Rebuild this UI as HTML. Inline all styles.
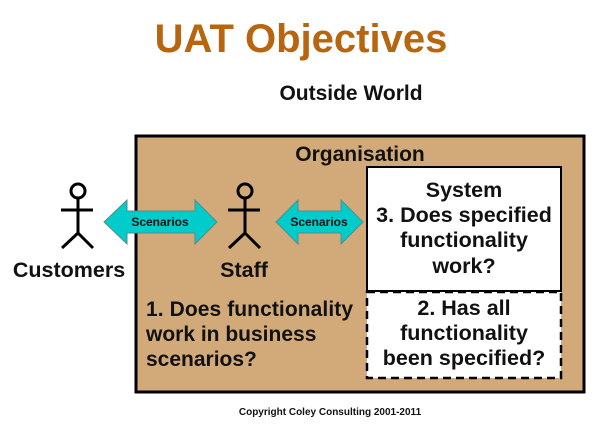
<!DOCTYPE html>
<html><head><style>
html,body{margin:0;padding:0;background:#fff;}
svg{display:block;font-family:"Liberation Sans",Arial,sans-serif;}
</style></head><body>
<svg width="600" height="437" viewBox="0 0 600 437">
<text x="301" y="52" text-anchor="middle" font-size="40" font-weight="bold" fill="#b8650f">UAT Objectives</text>
<text x="351" y="100" text-anchor="middle" font-size="21" font-weight="bold" fill="#111">Outside World</text>
<rect x="136" y="136" width="448" height="256" fill="#d2aa7a" stroke="#000" stroke-width="3"/>
<text x="360" y="161" text-anchor="middle" font-size="21" font-weight="bold" fill="#111">Organisation</text>
<rect x="367" y="167" width="194" height="124" fill="#fff" stroke="#000" stroke-width="2"/>
<rect x="367" y="292" width="194" height="86" fill="#fff" stroke="#000" stroke-width="2.5" stroke-dasharray="8,5"/>
<g font-size="21.5" text-anchor="middle" fill="#111" font-weight="bold">
<text x="464" y="197">System</text>
<text x="464" y="222">3. Does specified</text>
<text x="464" y="247">functionality</text>
<text x="464" y="273">work?</text>
<text x="464" y="315">2. Has all</text>
<text x="464" y="340">functionality</text>
<text x="464" y="365">been specified?</text>
</g>
<g font-size="21" fill="#111" font-weight="bold">
<text x="146" y="316" textLength="207">1. Does functionality</text>
<text x="146" y="341">work in business</text>
<text x="146" y="366">scenarios?</text>
<text x="69" y="277" text-anchor="middle" font-size="21.5">Customers</text>
<text x="244" y="277" text-anchor="middle" font-size="21.5">Staff</text>
</g>
<polygon points="104,222 127,200 127,211 195,211 195,200 217,222 195,244 195,233 127,233 127,244" fill="#00cccc" stroke="#5a8a8a" stroke-width="1"/>
<text x="160" y="226" text-anchor="middle" font-size="12" font-weight="bold" fill="#111">Scenarios</text>
<polygon points="276,222 298,200 298,211 341,211 341,200 363,222 341,244 341,233 298,233 298,244" fill="#00cccc" stroke="#5a8a8a" stroke-width="1"/>
<text x="319" y="226" text-anchor="middle" font-size="12" font-weight="bold" fill="#111">Scenarios</text>
<g stroke="#000" stroke-width="3" fill="none">
<circle cx="78" cy="191" r="7"/>
<line x1="78" y1="198" x2="78" y2="233"/><line x1="61" y1="210" x2="93" y2="210"/>
<line x1="78" y1="233" x2="62" y2="248"/><line x1="78" y1="233" x2="93" y2="248"/>
<circle cx="245" cy="191" r="7"/>
<line x1="245" y1="198" x2="245" y2="233"/><line x1="228" y1="210" x2="260" y2="210"/>
<line x1="245" y1="233" x2="229" y2="248"/><line x1="245" y1="233" x2="260" y2="248"/>
</g>
<text x="330" y="415" text-anchor="middle" font-size="10" font-weight="bold" fill="#111">Copyright Coley Consulting 2001-2011</text>
</svg>
</body></html>
